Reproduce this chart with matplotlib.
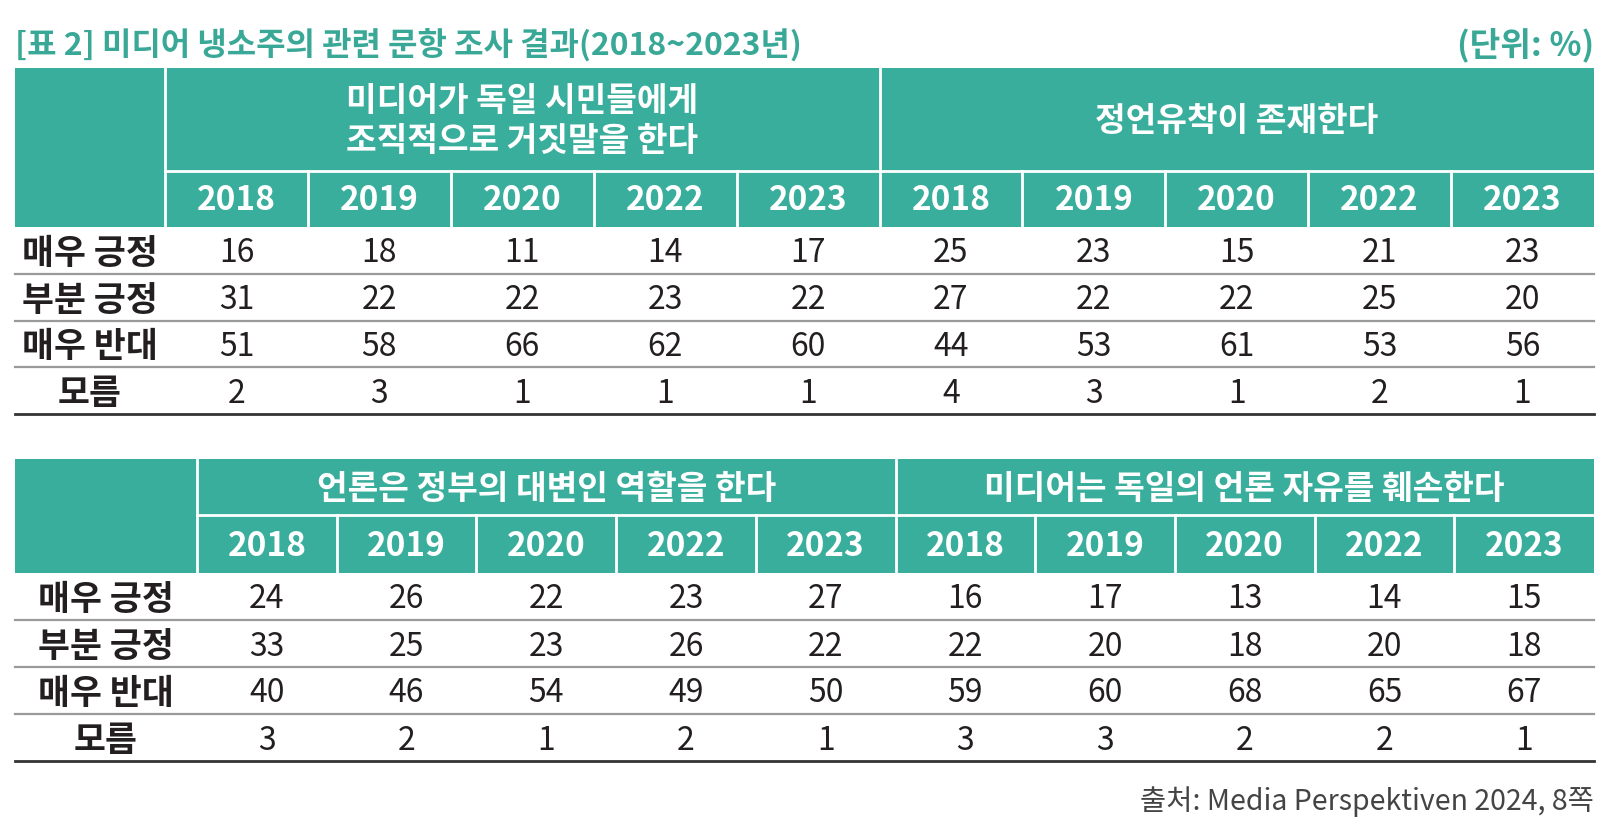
import matplotlib
matplotlib.use("Agg")
import matplotlib.pyplot as plt
from matplotlib.patches import Rectangle

plt.rcParams['font.family'] = ['Noto Sans CJK KR', 'DejaVu Sans']

# ---------------- data ----------------
title = "[표 2] 미디어 냉소주의 관련 문항 조사 결과(2018~2023년)"
unit = "(단위: %)"
source = "출처: Media Perspektiven 2024, 8쪽"

years = ["2018", "2019", "2020", "2022", "2023"]
row_labels = ["매우 긍정", "부분 긍정", "매우 반대", "모름"]

t1_groups = ["미디어가 독일 시민들에게\n조직적으로 거짓말을 한다", "정언유착이 존재한다"]
t1_very_pos = [16, 18, 11, 14, 17, 25, 23, 15, 21, 23]
t1_part_pos = [31, 22, 22, 23, 22, 27, 22, 22, 25, 20]
t1_very_neg = [51, 58, 66, 62, 60, 44, 53, 61, 53, 56]
t1_unknown = [2, 3, 1, 1, 1, 4, 3, 1, 2, 1]

t2_groups = ["언론은 정부의 대변인 역할을 한다", "미디어는 독일의 언론 자유를 훼손한다"]
t2_very_pos = [24, 26, 22, 23, 27, 16, 17, 13, 14, 15]
t2_part_pos = [33, 25, 23, 26, 22, 22, 20, 18, 20, 18]
t2_very_neg = [40, 46, 54, 49, 50, 59, 60, 68, 65, 67]
t2_unknown = [3, 2, 1, 2, 1, 3, 3, 2, 2, 1]

# ---------------- style ----------------
TEAL = "#3AAE9C"
TITLE_C = "#3AA897"
TXT = "#231F20"
W, H = 1622, 836

fig = plt.figure(figsize=(W / 100, H / 100), dpi=100)
ax = fig.add_axes([0, 0, 1, 1])
ax.set_xlim(0, W)
ax.set_ylim(H, 0)
ax.axis("off")

ax.text(15, 45, title, color=TITLE_C, fontsize=23, fontweight="bold",
        ha="left", va="center")
ax.text(1594, 45, unit, color=TITLE_C, fontsize=24, fontweight="bold",
        ha="right", va="center")


def draw_table(top, grp_bot, yr_bot, bottom, stub_w, groups, rows):
    left, right = 15, 1594
    x0 = left + stub_w
    ncol = 2 * len(years)
    cw = (right - x0) / ncol
    # header background
    ax.add_patch(Rectangle((left, top), right - left, yr_bot - top,
                           facecolor=TEAL, edgecolor="none"))
    lw = 2.0
    # stub separator
    ax.plot([x0, x0], [top, yr_bot], color="white", lw=lw)
    # group/year separator
    ax.plot([x0, right], [grp_bot, grp_bot], color="white", lw=lw)
    # group separator
    xm = x0 + cw * len(years)
    ax.plot([xm, xm], [top, yr_bot], color="white", lw=lw)
    # year column separators
    for i in range(1, ncol):
        if i == len(years):
            continue
        xi = x0 + cw * i
        ax.plot([xi, xi], [grp_bot, yr_bot], color="white", lw=lw)
    # group labels
    for g, lab in enumerate(groups):
        cx = x0 + cw * len(years) * (g + 0.5)
        ax.text(cx, (top + grp_bot) / 2 + 2, lab, color="white", fontsize=24,
                fontweight="bold", ha="center", va="center",
                linespacing=1.3, multialignment="center")
    # years
    for i in range(ncol):
        cx = x0 + cw * (i + 0.5)
        ax.text(cx, (grp_bot + yr_bot) / 2 + 2, years[i % len(years)],
                color="white", fontsize=24, fontweight="bold",
                ha="center", va="center")
    # data rows
    rh = (bottom - yr_bot) / len(rows)
    for r, vals in enumerate(rows):
        cy = yr_bot + rh * (r + 0.5)
        ax.text(left + stub_w / 2, cy + 3, row_labels[r], color=TXT,
                fontsize=25, fontweight="bold", ha="center", va="center")
        for i, v in enumerate(vals):
            ax.text(x0 + cw * (i + 0.5), cy + 3, str(v), color=TXT,
                    fontsize=23, ha="center", va="center")
        yl = yr_bot + rh * (r + 1)
        if r < len(rows) - 1:
            ax.plot([left, right], [yl, yl], color="#9A9A9A", lw=1.6)
        else:
            ax.plot([left, right], [yl, yl], color="#333333", lw=2.0)


draw_table(68, 171, 227, 414, 150, t1_groups,
           [t1_very_pos, t1_part_pos, t1_very_neg, t1_unknown])
draw_table(459, 515, 573, 761, 182, t2_groups,
           [t2_very_pos, t2_part_pos, t2_very_neg, t2_unknown])

ax.text(1594, 802, source, color="#444444", fontsize=20.5,
        ha="right", va="center")

fig.savefig("out.png", dpi=100)
